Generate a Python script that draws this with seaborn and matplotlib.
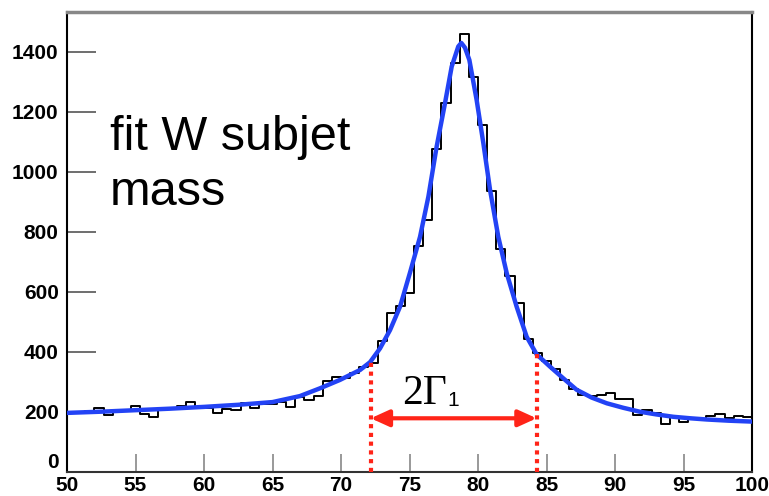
import numpy as np
import pandas as pd
import matplotlib
matplotlib.use("Agg")
import matplotlib.pyplot as plt
import seaborn as sns
from matplotlib.ticker import MultipleLocator

# ---------------- data ----------------
x_min, x_max, n_bins = 50, 100, 75
counts = [201, 200, 202, 214, 190, 205, 206, 220, 193, 182,
          207, 209, 220, 233, 218, 212, 196, 210, 207, 231,
          212, 225, 228, 232, 218, 250, 240, 254, 304, 318,
          313, 329, 349, 362, 436, 529, 553, 597, 753, 840,
          1078, 1229, 1362, 1460, 1318, 1157, 938, 742, 653, 564,
          442, 396, 370, 342, 307, 278, 257, 252, 255, 264,
          243, 243, 189, 205, 198, 160, 184, 165, 175, 177,
          188, 192, 180, 186, 182]

fit_x = [50, 52.5, 55, 57.5, 60, 62.5, 65, 67, 68.47, 69.93, 71.39, 72.12,
         72.85, 73.58, 74.31, 74.67, 75.04, 75.77, 76.38, 76.98, 77.59, 78.08,
         78.56, 78.78, 79.05, 79.37, 79.9, 80.39, 80.88, 81.48, 82.1, 82.82,
         83.55, 84.28, 85.26, 86.23, 87.2, 88.3, 89.4, 90.6, 91.8, 93.0, 94.26,
         95.5, 96.7, 98.3, 100]
fit_y = [197, 201, 206, 211, 217, 224, 233, 253, 279, 307, 340, 366,
         412, 473, 551, 607, 665, 784, 918, 1084, 1229, 1351,
         1418, 1430, 1414, 1373, 1240, 1096, 940, 784, 662, 551,
         451, 392, 351, 312, 274, 248, 229, 214, 201, 192, 184,
         179, 175, 171, 168]

gamma_lo, gamma_hi = 72.17, 84.28
gamma_lo_top, gamma_hi_top = 366, 400
arrow_y = 179

x_ticks = [50, 55, 60, 65, 70, 75, 80, 85, 90, 95, 100]
y_ticks = [0, 200, 400, 600, 800, 1000, 1200, 1400]
label_text = ["fit W subjet", "mass"]

# ---------------- figure ----------------
sns.set_style("white")
plt.rcParams["font.family"] = ["Liberation Sans", "DejaVu Sans"]
plt.rcParams["text.color"] = "black"
plt.rcParams["xtick.color"] = "black"
plt.rcParams["ytick.color"] = "black"

W, H = 769, 496
fig = plt.figure(figsize=(W / 100, H / 100), dpi=100)
ax = fig.add_axes([67 / W, 1 - 472 / H, (752 - 67) / W, (472 - 12) / H])

width = (x_max - x_min) / n_bins
centers = x_min + width * (np.arange(n_bins) + 0.5)
hist_df = pd.DataFrame({"mass": centers, "n": counts})
sns.histplot(data=hist_df, x="mass", weights="n", bins=n_bins,
             binrange=(x_min, x_max),
             element="step", fill=False, color="black", linewidth=1.4, ax=ax)

fit_df = pd.DataFrame({"mass": fit_x, "fit": fit_y})
sns.lineplot(data=fit_df, x="mass", y="fit", color="#2343f5", linewidth=3.2,
             ax=ax, zorder=3)

red = "#ff2418"
ax.plot([gamma_lo, gamma_lo], [0, gamma_lo_top], color=red, lw=3,
        linestyle=(0, (1.0, 1.1)), zorder=4, solid_capstyle="butt")
ax.plot([gamma_hi, gamma_hi], [0, gamma_hi_top], color=red, lw=3,
        linestyle=(0, (1.0, 1.1)), zorder=4, solid_capstyle="butt")
ax.annotate("", xy=(gamma_lo, arrow_y), xytext=(gamma_hi, arrow_y),
            arrowprops=dict(arrowstyle="<|-|>,head_length=1.1,head_width=0.5",
                            color=red, lw=3, shrinkA=0, shrinkB=0), zorder=5)
ax.text(74.43, 227, "2\u0393", family=["Liberation Serif", "DejaVu Serif"],
        fontsize=30, ha="left", va="baseline", color="black")
ax.text(77.75, 220, "1", fontsize=15, ha="left", va="baseline", color="black")

ax.text(53.14, 1073, label_text[0], fontsize=35, ha="left", va="baseline",
        color="black")
ax.text(53.14, 890, label_text[1], fontsize=35, ha="left", va="baseline",
        color="black")

ax.set_xlim(x_min, x_max)
ax.set_ylim(0, 1533)
ax.set_xticks(x_ticks)
ax.set_yticks(y_ticks)
ax.xaxis.set_minor_locator(MultipleLocator(1))
ax.yaxis.set_minor_locator(MultipleLocator(50))
ax.set_xticklabels([str(t) for t in x_ticks], fontweight="bold", fontsize=15,
                   color="black")
ax.set_yticklabels([str(t) for t in y_ticks], fontweight="bold", fontsize=15,
                   color="black")
ax.get_yticklabels()[0].set_verticalalignment("bottom")
ax.tick_params(axis="y", which="major", direction="in", length=21, width=1.2,
               color="#555555", pad=6)
ax.tick_params(axis="y", which="minor", direction="in", length=11, width=1.2,
               color="#777777")
ax.tick_params(axis="x", which="major", direction="in", length=13, width=1.2,
               color="#888888", pad=3)
ax.tick_params(axis="x", which="minor", direction="in", length=7, width=1.2,
               color="#666666")
ax.tick_params(left=True, bottom=True)
ax.set_xlabel("")
ax.set_ylabel("")
for s in ["left", "right", "bottom"]:
    ax.spines[s].set_color("black")
    ax.spines[s].set_linewidth(1.5)
ax.spines["bottom"].set_color("#333333")
ax.spines["top"].set_color("#888888")
ax.spines["top"].set_linewidth(2.5)
ax.set_facecolor("white")

fig.savefig("out.png", dpi=100, facecolor="white")
